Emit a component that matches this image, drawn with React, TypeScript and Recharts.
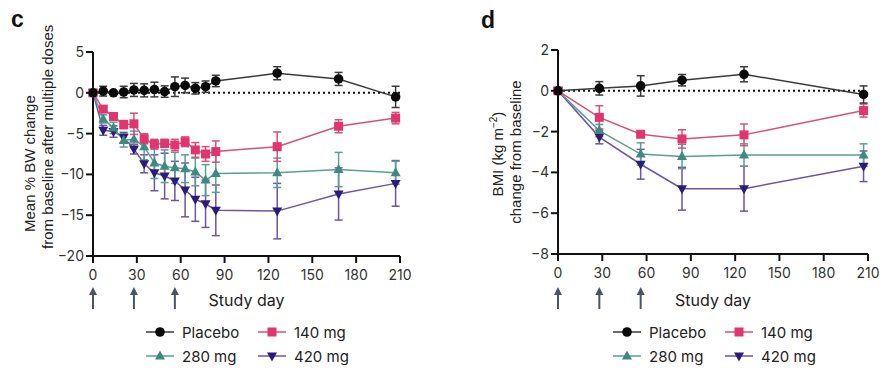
import React from 'react';
import { LineChart, Line, XAxis, YAxis, ErrorBar, ReferenceLine, Label } from 'recharts';

// panel c: % body weight change
const bwDays = [0, 7, 14, 21, 28, 35, 42, 49, 56, 63, 70, 77, 84, 126, 168, 207];
const bwPlacebo = [0, 0.2, 0, 0.1, 0.35, 0.3, 0.4, 0.15, 0.75, 0.9, 0.55, 0.75, 1.45, 2.4, 1.7, -0.5];
const bwPlaceboErr = [0, 0.6, 0.2, 0.7, 0.8, 0.8, 0.9, 0.7, 1.2, 0.9, 0.7, 0.7, 0.7, 0.8, 0.8, 1.3];
const bw140 = [0, -2.0, -2.9, -3.9, -3.8, -5.65, -6.3, -6.2, -6.4, -6.0, -7.0, -7.5, -7.2, -6.6, -4.1, -3.1];
const bw140Err = [0, 0.4, 0.4, 0.5, 1.3, 0.6, 0.6, 0.5, 0.7, 0.6, 0.9, 0.9, 1.3, 1.8, 0.8, 0.7];
const bw280 = [0, -3.2, -4.3, -5.85, -5.7, -6.6, -8.6, -9.0, -9.2, -9.3, -9.7, -10.7, -9.9, -9.8, -9.4, -9.8];
const bw280Err = [0, 0.5, 0.7, 0.8, 1.0, 1.6, 1.9, 2.0, 1.9, 1.7, 1.7, 1.9, 2.3, 1.8, 2.1, 1.4];
const bw420 = [0, -4.6, -4.75, -5.45, -6.9, -8.7, -9.8, -10.2, -10.8, -11.9, -13.05, -13.6, -14.4, -14.5, -12.4, -11.1];
const bw420Err = [0, 0.6, 0.7, 0.6, 0.6, 1.1, 2.2, 2.8, 2.4, 3.3, 2.7, 2.9, 3.1, 3.4, 3.2, 2.8];

// panel d: BMI change
const bmiDays = [0, 28, 56, 84, 126, 207];
const bmiPlacebo = [0, 0.12, 0.24, 0.52, 0.81, -0.18];
const bmiPlaceboErr = [0, 0.33, 0.5, 0.28, 0.37, 0.42];
const bmi140 = [0, -1.3, -2.13, -2.36, -2.16, -0.97];
const bmi140Err = [0, 0.57, 0.12, 0.45, 0.53, 0.32];
const bmi280 = [0, -1.95, -3.1, -3.22, -3.15, -3.15];
const bmi280Err = [0, 0.3, 0.55, 0.6, 0.55, 0.55];
const bmi420 = [0, -2.27, -3.6, -4.8, -4.8, -3.7];
const bmi420Err = [0, 0.33, 0.73, 1.05, 1.1, 0.75];

const xTicks = [0, 30, 60, 90, 120, 150, 180, 210];
const bwTicks = [-20, -15, -10, -5, 0, 5];
const bmiTicks = [-8, -6, -4, -2, 0, 2];
const doseDays = [0, 28, 56];

type Shape = 'circle' | 'square' | 'up' | 'down';
const series: { key: string; name: string; marker: string; line: string; shape: Shape }[] = [
  { key: 'placebo', name: 'Placebo', marker: '#0a0a0a', line: '#3a3a3a', shape: 'circle' },
  { key: 'd140', name: '140 mg', marker: '#e0356e', line: '#d6507f', shape: 'square' },
  { key: 'd280', name: '280 mg', marker: '#3e8a80', line: '#5a9e95', shape: 'up' },
  { key: 'd420', name: '420 mg', marker: '#2b1b7a', line: '#6e55a0', shape: 'down' },
];

const bwData = bwDays.map((day, i) => ({
  day,
  placebo: bwPlacebo[i], placeboErr: bwPlaceboErr[i],
  d140: bw140[i], d140Err: bw140Err[i],
  d280: bw280[i], d280Err: bw280Err[i],
  d420: bw420[i], d420Err: bw420Err[i],
}));

const bmiData = bmiDays.map((day, i) => ({
  day,
  placebo: bmiPlacebo[i], placeboErr: bmiPlaceboErr[i],
  d140: bmi140[i], d140Err: bmi140Err[i],
  d280: bmi280[i], d280Err: bmi280Err[i],
  d420: bmi420[i], d420Err: bmi420Err[i],
}));

const FONT = 'Inter, sans-serif';
const LABEL_FONT = "'Liberation Sans', Arial, sans-serif";

function Marker({ cx, cy, shape, color }: { cx: number; cy: number; shape: Shape; color: string }) {
  if (cx == null || cy == null) return null;
  if (shape === 'circle') return <circle cx={cx} cy={cy} r={4.8} fill={color} />;
  if (shape === 'square') return <rect x={cx - 4.5} y={cy - 4.5} width={9} height={9} fill={color} />;
  if (shape === 'up')
    return <polygon points={`${cx},${cy - 5.5} ${cx - 5},${cy + 3.5} ${cx + 5},${cy + 3.5}`} fill={color} />;
  return <polygon points={`${cx},${cy + 5.5} ${cx - 5},${cy - 3.5} ${cx + 5},${cy - 3.5}`} fill={color} />;
}

const minus = (v: number) => String(v).replace('-', '\u2212');

function StudyDay({ viewBox }: any) {
  const { x, width } = viewBox;
  return (
    <g>
      {doseDays.map((d) => {
        const ax = x + (d / 210) * width;
        return (
          <g key={d}>
            <line x1={ax} y1={293} x2={ax} y2={309} stroke="#4a5563" strokeWidth={2} />
            <polygon points={`${ax},${287} ${ax - 4},${295} ${ax + 4},${295}`} fill="#4a5563" />
          </g>
        );
      })}
      <text x={x + width / 2} y={306} textAnchor="middle" fontSize={16} fontFamily={FONT} fill="#222">
        Study day
      </text>
    </g>
  );
}

const axisStroke = { stroke: '#111', strokeWidth: 2 };

function Panel({
  data, left, width, margin, yDomain, yTicks, yLabel,
}: {
  data: any[]; left: number; width: number; margin: any; yDomain: [number, number]; yTicks: number[];
  yLabel: (p: any) => React.ReactElement;
}) {
  const order = [3, 2, 1, 0];
  return (
    <div style={{ position: 'absolute', left, top: 0 }}>
      <LineChart width={width} height={320} data={data} margin={margin}>
        <ReferenceLine y={0} stroke="#111" strokeWidth={2} strokeDasharray="2 3" />
        <XAxis
          dataKey="day"
          type="number"
          domain={[0, 210]}
          ticks={xTicks}
          height={30}
          axisLine={axisStroke}
          tickLine={axisStroke}
          tickSize={7}
          tickMargin={7}
          tick={{ fontSize: 14, fontFamily: FONT, fill: '#333' }}
        >
          <Label content={StudyDay} />
        </XAxis>
        <YAxis
          type="number"
          domain={yDomain}
          ticks={yTicks}
          width={40}
          axisLine={axisStroke}
          tickLine={axisStroke}
          tickSize={7}
          tickMargin={2}
          tickFormatter={minus}
          tick={{ fontSize: 14, fontFamily: FONT, fill: '#333' }}
        >
          <Label content={yLabel} />
        </YAxis>
        {order.map((i) => {
          const s = series[i];
          return (
            <Line
              key={s.key}
              dataKey={s.key}
              type="linear"
              stroke={s.line}
              strokeWidth={1.5}
              isAnimationActive={false}
              dot={(p: any) => <Marker key={`${s.key}-${p.index}`} cx={p.cx} cy={p.cy} shape={s.shape} color={s.marker} />}
              activeDot={false}
            >
              <ErrorBar dataKey={`${s.key}Err`} width={4} stroke={s.line} strokeWidth={1.5} direction="y" />
            </Line>
          );
        })}
      </LineChart>
    </div>
  );
}

const bwLabel = () => (
  <g fontFamily={LABEL_FONT} fontSize={15} fill="#222">
    <text x={35} y={232} transform="rotate(-90 35 232)" textAnchor="start">Mean % BW change</text>
    <text x={53} y={249} transform="rotate(-90 53 249)" textAnchor="start">from baseline after multiple doses</text>
  </g>
);

const bmiLabel = () => (
  <g fontFamily={LABEL_FONT} fontSize={15} fill="#222">
    <text x={33} y={154} transform="rotate(-90 33 154)" textAnchor="middle">
      BMI (kg m<tspan dy={-6} fontSize={10}>{'\u2212'}2</tspan><tspan dy={6}>)</tspan>
    </text>
    <text x={51} y={152} transform="rotate(-90 51 152)" textAnchor="middle">change from baseline</text>
  </g>
);

function LegendBox({ x0 }: { x0: number }) {
  const cols = [0, 112];
  const rows = [332, 356];
  return (
    <g>
      {series.map((s, i) => {
        const lx = x0 + cols[i % 2];
        const ly = rows[Math.floor(i / 2)];
        return (
          <g key={s.key}>
            <line x1={lx} y1={ly} x2={lx + 28} y2={ly} stroke={s.line} strokeWidth={1.5} />
            <Marker cx={lx + 14} cy={ly} shape={s.shape} color={s.marker} />
            <text x={lx + 36} y={ly + 5.5} fontSize={15} fontFamily={FONT} fill="#222">{s.name}</text>
          </g>
        );
      })}
    </g>
  );
}

export default function App() {
  return (
    <div style={{ position: 'absolute', left: 0, top: 0, width: 889, height: 380, background: '#fff' }}>
      <Panel
        data={bwData}
        left={0}
        width={420}
        margin={{ top: 52, right: 20, left: 53, bottom: 34 }}
        yDomain={[-20, 5]}
        yTicks={bwTicks}
        yLabel={bwLabel}
      />
      <Panel
        data={bmiData}
        left={470}
        width={419}
        margin={{ top: 50, right: 21, left: 48, bottom: 36 }}
        yDomain={[-8, 2]}
        yTicks={bmiTicks}
        yLabel={bmiLabel}
      />
      <svg width={889} height={380} style={{ position: 'absolute', left: 0, top: 0, pointerEvents: 'none' }}>
        <text x={11} y={27} fontSize={23} fontWeight={700} fontFamily={LABEL_FONT} fill="#111">c</text>
        <text x={481} y={28} fontSize={23} fontWeight={700} fontFamily={LABEL_FONT} fill="#111">d</text>
        <LegendBox x0={146} />
        <LegendBox x0={613} />
      </svg>
    </div>
  );
}
